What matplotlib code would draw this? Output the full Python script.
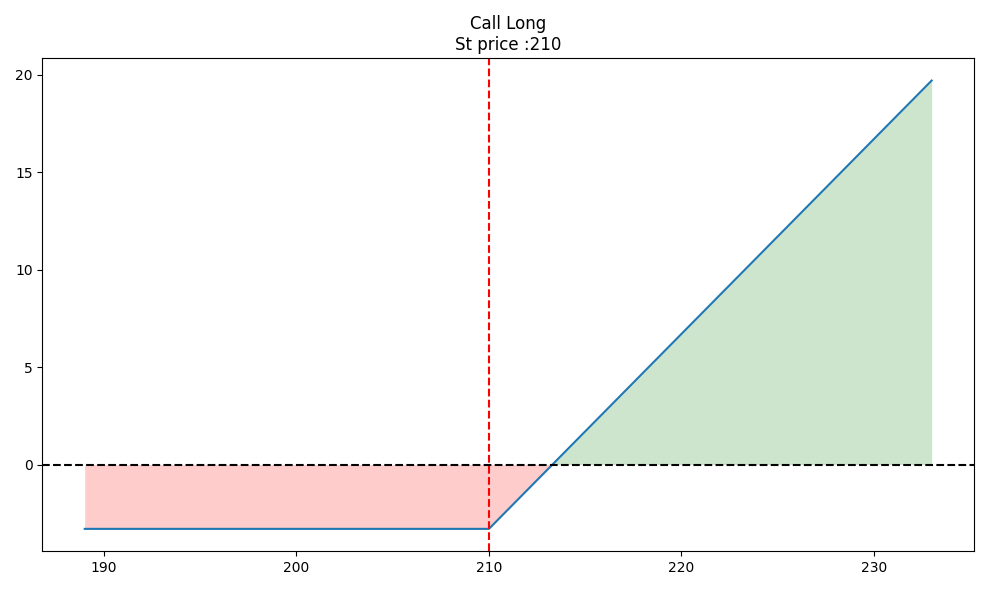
import matplotlib
matplotlib.use("Agg")
import matplotlib.pyplot as plt
import numpy as np

strike = 210
prices = [189, 210, 213.3, 233]
payoff = [-3.3, -3.3, 0.0, 19.7]

x = np.array(prices)
y = np.array(payoff)

fig, ax = plt.subplots(figsize=(9.89, 5.9), dpi=100)
ax.plot(x, y, color="#1f77b4")
ax.fill_between(x, y, 0, where=(y >= 0), color="green", alpha=0.2, interpolate=True, linewidth=0)
ax.fill_between(x, y, 0, where=(y <= 0), color="red", alpha=0.2, interpolate=True, linewidth=0)
ax.axhline(0, color="black", linestyle="--")
ax.axvline(strike, color="red", linestyle="--")
ax.set_title("Call Long\nSt price :210")
fig.tight_layout()
fig.savefig("out.png")
